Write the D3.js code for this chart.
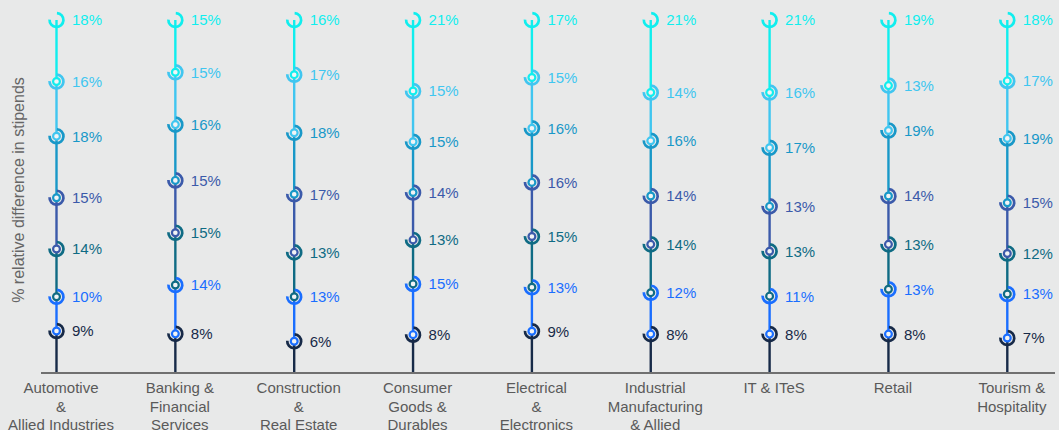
<!DOCTYPE html>
<html>
<head>
<meta charset="utf-8">
<script src="https://cdn.jsdelivr.net/npm/d3@7"></script>
<style>
  html, body { margin: 0; padding: 0; background: #e8e9e9; }
  svg { display: block; font-family: "Liberation Sans", Arial, sans-serif; }
</style>
</head>
<body>
<svg id="chart" width="1059" height="430"></svg>
<script>
// ---- data ----
const categories = [
  "Automotive & Allied Industries",
  "Banking & Financial Services",
  "Construction & Real Estate",
  "Consumer Goods & Durables",
  "Electrical & Electronics",
  "Industrial Manufacturing & Allied",
  "IT & ITeS",
  "Retail",
  "Tourism & Hospitality"
];
const categoryLabelLines = [
  ["Automotive", "&", "Allied Industries"],
  ["Banking &", "Financial", "Services"],
  ["Construction", "&", "Real Estate"],
  ["Consumer", "Goods &", "Durables"],
  ["Electrical", "&", "Electronics"],
  ["Industrial", "Manufacturing", "& Allied"],
  ["IT & ITeS"],
  ["Retail"],
  ["Tourism &", "Hospitality"]
];
const seriesNames = ["Segment 1", "Segment 2", "Segment 3", "Segment 4", "Segment 5", "Segment 6", "Segment 7"];
const segment1 = [9, 8, 6, 8, 9, 8, 8, 8, 7];
const segment2 = [10, 14, 13, 15, 13, 12, 11, 13, 13];
const segment3 = [14, 15, 13, 13, 15, 14, 13, 13, 12];
const segment4 = [15, 15, 17, 14, 16, 14, 13, 14, 15];
const segment5 = [18, 16, 18, 15, 16, 16, 17, 19, 19];
const segment6 = [16, 15, 17, 15, 15, 14, 16, 13, 17];
const segment7 = [18, 15, 16, 21, 17, 21, 21, 19, 18];
const yAxisTitle = "% relative difference in stipends";

const seriesValues = [segment1, segment2, segment3, segment4, segment5, segment6, segment7];
const colors = ["#172a48", "#1a6eff", "#0f6b84", "#3b5aaa", "#1898c8", "#40c6f0", "#10eeee"];

// ---- table ----
const table = categories.map((c, i) => {
  const row = { category: c };
  seriesNames.forEach((s, k) => row[s] = seriesValues[k][i]);
  return row;
});

const stack = d3.stack().keys(seriesNames).offset(d3.stackOffsetExpand);
const stacked = stack(table);

const svg = d3.select("#chart");
const axisLeft = 41, axisRight = 1055, baseY = 373;

const x = d3.scalePoint().domain(categories).range([56.5, 1007.3]);
const y = d3.scaleLinear().domain([-0.033, 1]).range([baseY, 20]);

// y axis title
svg.append("text")
  .attr("transform", `translate(24,190) rotate(-90)`)
  .attr("text-anchor", "middle")
  .attr("fill", "#666")
  .attr("font-size", 16)
  .text(yAxisTitle);

// vertical segments
const gLines = svg.append("g");
stacked.forEach((layer, k) => {
  gLines.selectAll(null).data(layer).enter().append("line")
    .attr("x1", d => x(d.data.category))
    .attr("x2", d => x(d.data.category))
    .attr("y1", d => k === 0 ? baseY : y(d[0]))
    .attr("y2", d => y(d[1]))
    .attr("stroke", colors[k])
    .attr("stroke-width", 2.4);
});

// axis baseline
svg.append("line")
  .attr("x1", axisLeft).attr("x2", axisRight)
  .attr("y1", baseY).attr("y2", baseY)
  .attr("stroke", "#707070").attr("stroke-width", 2.2);

// markers
const arc = d3.arc().innerRadius(5.6).outerRadius(8.3).startAngle(0.02 * Math.PI).endAngle(1.52 * Math.PI);
const gMarks = svg.append("g");
stacked.forEach((layer, k) => {
  layer.forEach(d => {
    const cx = x(d.data.category), cy = y(d[1]);
    gMarks.append("path")
      .attr("transform", `translate(${cx},${cy})`)
      .attr("d", arc())
      .attr("fill", colors[k]);
    if (k < stacked.length - 1) {
      gMarks.append("circle")
        .attr("cx", cx).attr("cy", cy).attr("r", 3.4)
        .attr("fill", "#f2f4f5")
        .attr("stroke", colors[k + 1])
        .attr("stroke-width", 2.2);
    }
    gMarks.append("text")
      .attr("x", cx + 15.5)
      .attr("y", cy)
      .attr("dy", "0.36em")
      .attr("font-size", 15)
      .attr("fill", colors[k])
      .text(d.data[seriesNames[k]] + "%");
  });
});

// category labels
const gCat = svg.append("g");
categories.forEach((c, i) => {
  const t = gCat.append("text")
    .attr("x", x(c) + 4.5)
    .attr("y", 393)
    .attr("text-anchor", "middle")
    .attr("font-size", 15)
    .attr("fill", "#5a5a5a");
  categoryLabelLines[i].forEach((line, j) => {
    t.append("tspan").attr("x", x(c) + 4.5).attr("dy", j === 0 ? 0 : 18.5).text(line);
  });
});
</script>
</body>
</html>
